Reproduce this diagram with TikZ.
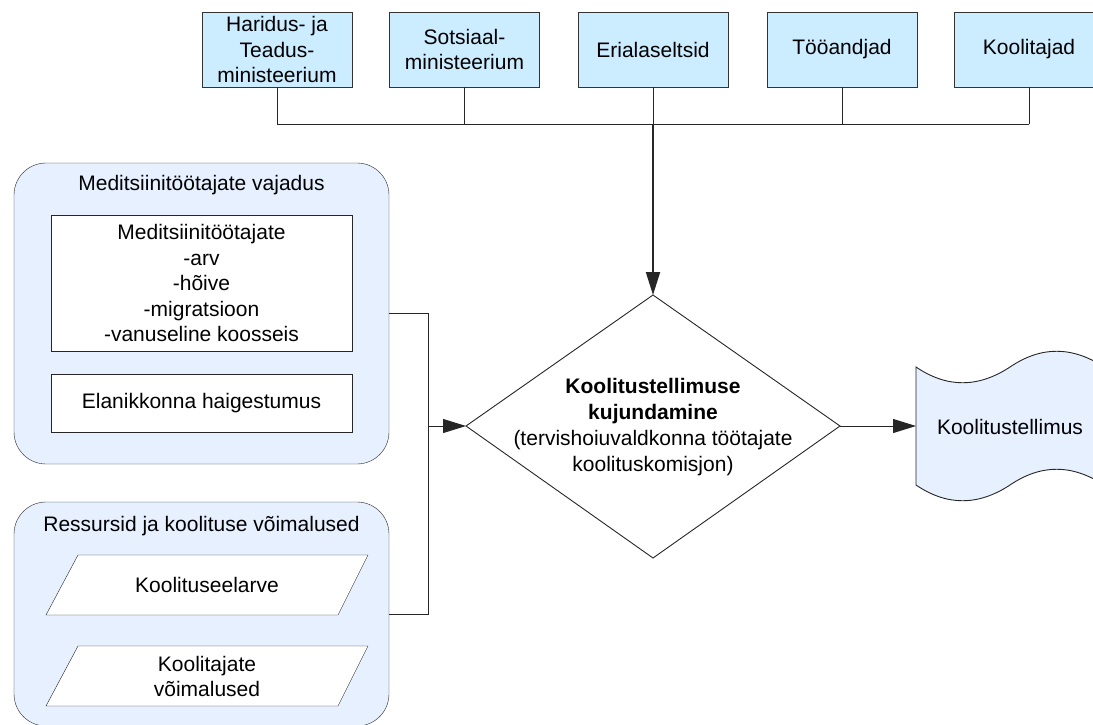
\documentclass[tikz,border=0pt]{standalone}
\usepackage{fontspec}
\setmainfont{Liberation Sans}
\usetikzlibrary{arrows.meta}
\definecolor{topblue}{RGB}{204,236,255}
\definecolor{grpblue}{RGB}{230,240,255}
\begin{document}
\begin{tikzpicture}[x=1pt,y=-1pt,
  txt/.style={font=\fontsize{21}{25.5}\selectfont, align=center, inner sep=0pt},
  topbox/.style={txt, draw=black!80, fill=topblue, minimum width=150pt, minimum height=75pt},
  grp/.style={draw=black!85, fill=grpblue, rounded corners=32pt, minimum width=375pt, inner sep=0pt},
  innerbox/.style={txt, draw=black!85, fill=white, minimum width=301pt},
  para/.style={draw=black!85, fill=white},
  conn/.style={draw=black!85, line width=0.9pt},
  arr/.style={conn, -{Triangle[length=23pt,width=14pt]}},
  ]
\clip (0,0) rectangle (1093,724);
% top boxes
\node[topbox] (b1) at (277,49.5) {Haridus- ja\\Teadus-\\ministeerium};
\node[topbox] (b2) at (464.5,49.5) {Sotsiaal-\\ministeerium};
\node[topbox] (b3) at (653,49.5) {Erialaseltsid};
\node[topbox] (b4) at (842,49.5) {Tööandjad};
\node[topbox] (b5) at (1029,49.5) {Koolitajad};
\coordinate (j1) at (277,124);
\coordinate (j2) at (464.5,124);
\coordinate (j3) at (653,124);
\coordinate (j4) at (842,124);
\coordinate (j5) at (1029,124);
\draw[conn] (b1.south) -- (j1);
\draw[conn] (b2.south) -- (j2);
\draw[conn] (b3.south) -- (j3);
\draw[conn] (b4.south) -- (j4);
\draw[conn] (b5.south) -- (j5);
\draw[conn] (j1) -- (j5);
% diamond
\coordinate (dtop) at (653,295);
\coordinate (dright) at (840,426);
\coordinate (dbot) at (653,558);
\coordinate (dleft) at (466,426);
\draw[draw=black!85, fill=white, line width=0.9pt] (dtop) -- (dright) -- (dbot) -- (dleft) -- cycle;
\node[txt, font=\fontsize{21}{26}\selectfont] (dia) at (653,427)
  {\textbf{Koolitustellimuse}\\\textbf{kujundamine}\\(tervishoiuvaldkonna töötajate\\koolituskomisjon)};
\draw[arr, line width=2pt] (j3) -- (dtop);
% group 1
\node[grp, minimum height=301pt] (g1) at (201.5,313.5) {};
\node[txt] (g1t) at (201.5,185) {Meditsiinitöötajate vajadus};
\node[innerbox, minimum height=136pt] (m1) at (201.5,283)
  {Meditsiinitöötajate\\-arv\\-hõive\\-migratsioon\\-vanuseline koosseis};
\node[innerbox, minimum height=58pt] (m2) at (201.5,403) {Elanikkonna haigestumus};
% group 2
\node[grp, minimum height=224pt] (g2) at (201.5,614) {};
\node[txt] (g2t) at (201.5,526) {Ressursid ja koolituse võimalused};
\draw[para] (78,555) -- (368,555) -- (338,615) -- (46,615) -- cycle;
\node[txt] (p1) at (207,585) {Koolituseelarve};
\draw[para] (78,646) -- (368,646) -- (338,706) -- (46,706) -- cycle;
\node[txt] (p2) at (207,676.5) {Koolitajate\\võimalused};
% left connectors
\coordinate (jl) at (428,426);
\draw[conn] (g1.east) -| (jl);
\draw[conn] (g2.east) -| (jl);
\draw[arr] (jl) -- (dleft);
% output tape
\draw[draw=black!85, fill=grpblue, line width=0.9pt]
  (916,367) .. controls (947,388) and (978,388) .. (1010,367)
  .. controls (1041,346) and (1072,346) .. (1104,367)
  -- (1104,485)
  .. controls (1072,464) and (1041,464) .. (1010,485)
  .. controls (978,506) and (947,506) .. (916,485) -- cycle;
\node[txt] (ko) at (1010,427) {Koolitustellimus};
\coordinate (kleft) at (916,426);
\draw[arr] (dright) -- (kleft);
\end{tikzpicture}
\end{document}
